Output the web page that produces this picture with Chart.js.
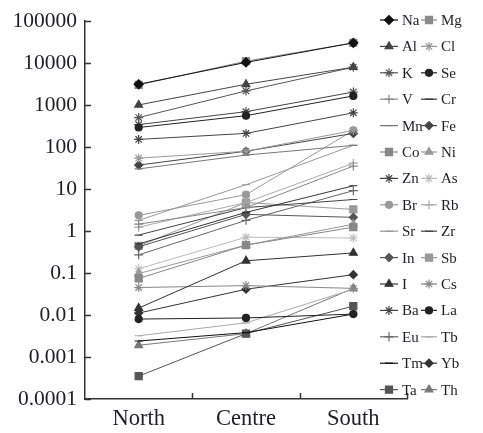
<!DOCTYPE html>
<html><head><meta charset="utf-8">
<script src="https://cdn.jsdelivr.net/npm/chart.js@4.4.1/dist/chart.umd.min.js"></script>
<style>html,body{margin:0;padding:0;background:#fff}#wrap{width:483px;height:433px;position:relative}</style>
</head><body><div id="wrap"><canvas id="c"></canvas></div>
<script>
// ---- data ----
const categories = ['North', 'Centre', 'South'];
const yTickValues = [0.0001, 0.001, 0.01, 0.1, 1, 10, 100, 1000, 10000, 100000];
const yTickLabels = ['0.0001', '0.001', '0.01', '0.1', '1', '10', '100', '1000', '10000', '100000'];
const elements = ['Na','Mg','Al','Cl','K','Se','V','Cr','Mn','Fe','Co','Ni','Zn','As','Br','Rb','Sr','Zr','In','Sb','I','Cs','Ba','La','Eu','Tb','Tm','Yb','Ta','Th'];

const Na = [3100, 10300, 30000];
const Mg = [3000, 11000, 30000];
const Al = [1000, 3100, 7900];
const K  = [500, 2150, 7900];
const Ba = [340, 690, 2030];
const Se = [290, 555, 1640];
const Zn = [151, 210, 650];
const Cl = [54, 79, 247];
const Fe = [37, 79, 210];
const Mn = [30, 64, 109];
const Br = [2.35, 7.3, 247];
const Sr = [1.79, 12.6, 109];
const Rb = [1.23, 4.75, 41];
const V  = [1.45, 3.6, 35];
const Zr = [0.80, 3.6, 5.6];
const Cr = [0.49, 2.77, 11.9];
const Sb = [0.44, 4.75, 3.25];
const Eu = [0.27, 1.79, 9.1];
const In = [0.42, 2.48, 2.11];
const As = [0.126, 0.71, 0.68];
const Ni = [0.097, 0.46, 1.45];
const Co = [0.074, 0.46, 1.23];
const I  = [0.0146, 0.195, 0.30];
const Cs = [0.045, 0.050, 0.043];
const Yb = [0.0111, 0.041, 0.091];
const La = [0.0080, 0.0085, 0.0105];
const Tb = [0.0032, 0.0065, 0.041];
const Tm = [0.0024, 0.0038, 0.0105];
const Th = [0.0019, 0.0036, 0.043];
const Ta = [0.00035, 0.0036, 0.0162];

const seriesData = {Na,Mg,Al,Cl,K,Se,V,Cr,Mn,Fe,Co,Ni,Zn,As,Br,Rb,Sr,Zr,In,Sb,I,Cs,Ba,La,Eu,Tb,Tm,Yb,Ta,Th};

// ---- styles ----
const styles = {
  Na:{s:'rectRot',c:'#111',r:4.5}, Mg:{s:'rect',c:'#8a8a8a',r:5},
  Al:{s:'triangle',c:'#444',r:4.5}, Cl:{s:'star',c:'#999',r:4.5},
  K:{s:'star',c:'#555',r:4.5}, Se:{s:'circle',c:'#222',r:3.5},
  V:{s:'cross',c:'#888',r:4.5}, Cr:{s:'line',c:'#333',r:4},
  Mn:{s:'line',c:'#777',r:4}, Fe:{s:'rectRot',c:'#444',r:4},
  Co:{s:'rect',c:'#888',r:5}, Ni:{s:'triangle',c:'#999',r:4.5},
  Zn:{s:'star',c:'#444',r:4.5}, As:{s:'star',c:'#bbb',r:4.5},
  Br:{s:'circle',c:'#999',r:3.5}, Rb:{s:'cross',c:'#aaa',r:4.5},
  Sr:{s:'line',c:'#999',r:4}, Zr:{s:'line',c:'#444',r:4},
  In:{s:'rectRot',c:'#555',r:4}, Sb:{s:'rect',c:'#999',r:5},
  I:{s:'triangle',c:'#333',r:4.5}, Cs:{s:'star',c:'#888',r:4.5},
  Ba:{s:'star',c:'#444',r:4.5}, La:{s:'circle',c:'#222',r:3.5},
  Eu:{s:'cross',c:'#666',r:4.5}, Tb:{s:'line',c:'#aaa',r:4},
  Tm:{s:'line',c:'#111',r:4}, Yb:{s:'rectRot',c:'#333',r:4},
  Ta:{s:'rect',c:'#555',r:5}, Th:{s:'triangle',c:'#777',r:4.5}
};

const FONT = 'Liberation Serif';
const TEXT = '#1e1e28';

const datasets = elements.map(name => {
  const st = styles[name];
  return {
    label: name,
    data: seriesData[name],
    borderColor: st.c,
    backgroundColor: st.c,
    borderWidth: 1,
    pointStyle: st.s,
    pointRadius: st.r,
    pointBorderWidth: 1.2,
    pointBorderColor: st.c,
    pointBackgroundColor: st.c,
    tension: 0,
    fill: false
  };
});

function drawMarker(ctx, st, x, y) {
  ctx.fillStyle = st.c; ctx.strokeStyle = st.c; ctx.lineWidth = 1.2;
  if (Chart.helpers && Chart.helpers.drawPoint) {
    Chart.helpers.drawPoint(ctx, {pointStyle: st.s, radius: st.r, rotation: 0, borderWidth: 1.2}, x, y);
  } else {
    ctx.beginPath(); ctx.arc(x, y, 3, 0, Math.PI*2); ctx.fill();
  }
}

const extras = {
  id: 'extras',
  afterDraw(chart) {
    const ctx = chart.ctx, ys = chart.scales.y, xs = chart.scales.x, area = chart.chartArea;
    ctx.save();
    ctx.strokeStyle = '#333'; ctx.lineWidth = 1.5;
    yTickValues.forEach(v => {
      const py = Math.round(ys.getPixelForValue(v)) + 0.5;
      ctx.beginPath(); ctx.moveTo(area.left, py); ctx.lineTo(area.left + 6, py); ctx.stroke();
    });
    for (let i = 0; i < categories.length; i++) {
      const px = Math.round(xs.getPixelForValue(i + 0.5)) + 0.5;
      ctx.beginPath(); ctx.moveTo(px, area.bottom); ctx.lineTo(px, area.bottom - 6); ctx.stroke();
    }
    // legend
    ctx.font = '15px "' + FONT + '"';
    ctx.textBaseline = 'middle';
    ctx.textAlign = 'left';
    const colX = [[380, 398, 402], [421, 437, 441]];
    elements.forEach((name, i) => {
      const row = Math.floor(i / 2), col = i % 2;
      const y = 20 + row * 26.4;
      const st = styles[name];
      const [x0, x1, tx] = colX[col];
      ctx.strokeStyle = st.c; ctx.lineWidth = 1.2;
      ctx.beginPath(); ctx.moveTo(x0, y); ctx.lineTo(x1, y); ctx.stroke();
      drawMarker(ctx, st, (x0 + x1) / 2, y);
      ctx.fillStyle = TEXT;
      ctx.fillText(name, tx, y + 1);
    });
    ctx.restore();
  }
};

new Chart(document.getElementById('c'), {
  type: 'line',
  data: { labels: categories, datasets },
  options: {
    responsive: true, maintainAspectRatio: false, animation: false,
    layout: { padding: { top: 16, right: 76, left: 0, bottom: 0 } },
    plugins: { legend: { display: false }, tooltip: { enabled: false } },
    scales: {
      x: {
        type: 'category', offset: true,
        grid: { display: true, drawOnChartArea: false, drawTicks: false, color: 'rgba(0,0,0,0)' },
        border: { display: true, color: '#333', width: 1.5 },
        ticks: { font: { family: FONT, size: 22.5 }, color: TEXT, padding: 7 },
        afterFit(s) { s.height = 34; }
      },
      y: {
        type: 'logarithmic', min: 0.0001, max: 100000,
        grid: { display: true, drawOnChartArea: false, drawTicks: false, color: 'rgba(0,0,0,0)' },
        border: { display: true, color: '#333', width: 1.5 },
        ticks: {
          font: { family: FONT, size: 21.5 }, color: TEXT, padding: 8, autoSkip: false,
          callback: (v, i) => yTickLabels[yTickValues.indexOf(v)] ?? ''
        },
        afterBuildTicks(s) { s.ticks = yTickValues.map(v => ({ value: v })); },
        afterFit(s) { s.width = 85; }
      }
    }
  },
  plugins: [extras]
});
</script>
</body></html>
